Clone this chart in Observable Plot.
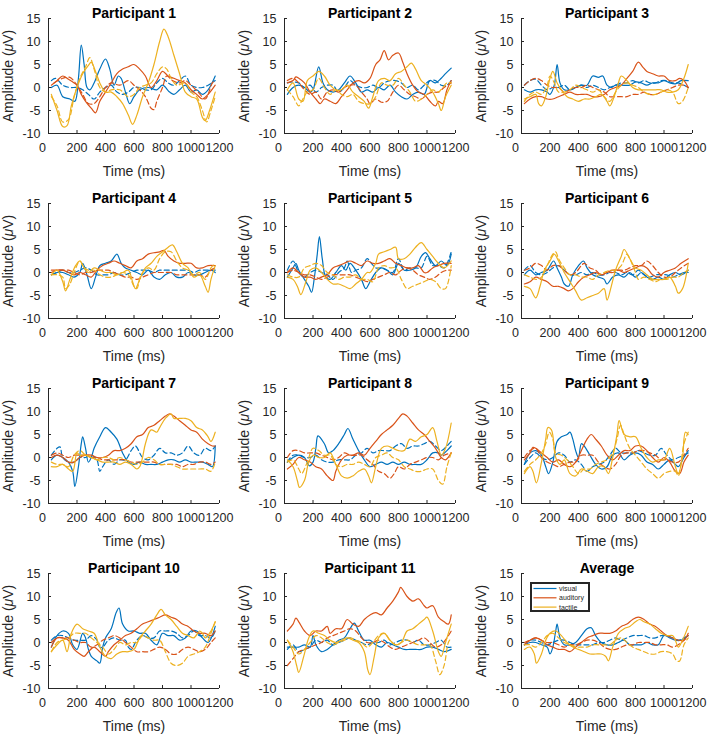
<!DOCTYPE html>
<html><head><meta charset="utf-8">
<script src="https://cdn.jsdelivr.net/npm/d3@7"></script>
<script src="https://cdn.jsdelivr.net/npm/@observablehq/plot@0.6"></script>
<style>
body{margin:0;background:#fff;}
#wrap{position:relative;width:708px;height:735px;overflow:hidden;font-family:"Liberation Sans",Arial,sans-serif;}
.panel{position:absolute;}
</style></head><body><div id="wrap"></div>
<script>
const titles = ["Participant 1","Participant 2","Participant 3","Participant 4","Participant 5","Participant 6","Participant 7","Participant 8","Participant 9","Participant 10","Participant 11","Average"];
const conditions = ["visual","auditory","tactile"];
const xTicks = [0,200,400,600,800,1000,1200];
const yTicks = [-10,-5,0,5,10,15];
const xLabel = "Time (ms)";
const yLabel = "Amplitude (μV)";

// each series: flat list of time(ms), amplitude(µV) pairs; solid and dashed traces per condition
const p1 = {
 visual:[20,0,60,0.5,100,-2,150,-2.5,185,-3,210,2,230,9.2,250,5,270,0,290,-0.5,320,1,360,4,400,6.2,430,4,460,0.5,490,2.5,510,2,540,-1,570,-3.5,600,-2,640,-0.5,700,0,760,-0.5,800,0.5,850,-1,880,-1.5,920,-0.5,960,0.5,1000,-1,1040,-0.5,1080,-1.5,1120,-0.5,1170,2.5],
 visualDashed:[20,1.5,50,2,100,0.5,150,0,200,0,240,-0.5,280,-1.5,320,-2.5,360,-1,400,0,440,0.5,480,-1,520,-1.5,560,-1,600,0,640,0,680,-0.5,720,-0.5,760,1,800,2,840,1,880,0.5,920,1.5,960,2.5,1000,0.5,1040,0,1080,0,1120,0.5,1170,1.5],
 auditory:[20,0.5,60,1.5,100,2.5,140,1.8,180,1,200,0.5,230,-1.5,260,-3,300,-4.5,330,-5.5,360,-3,400,-1,440,1,480,3,520,4,560,4.5,600,5,640,4,680,2.5,720,0,760,1.5,800,3.5,840,2.5,880,2,920,1.5,960,1,1000,-0.5,1040,-1.5,1080,-2.5,1120,-1.5,1170,0.5],
 auditoryDashed:[40,1,100,2,150,2.2,200,0.5,240,-1.5,280,-3.5,320,-3.5,360,-2,400,0,440,1,500,0.5,560,1.5,600,0.5,640,-0.5,680,-2,720,-4.5,740,-4.8,760,-3,800,0,830,2.5,870,1.5,920,1,960,1.5,1000,0.5,1050,-1,1100,-2.5,1150,1,1170,1.5],
 tactile:[20,-1.5,60,-5,100,-8.5,130,-8.3,160,-4,200,0,240,3,280,4.8,300,5.5,330,3.5,360,1,400,-1,440,-1,480,-2,520,-3.5,560,-6,590,-8,620,-6,660,-2,700,1,740,5,780,10,810,12.7,840,11,880,7,920,3,960,-1,1000,-2,1040,-2.5,1080,-6.5,1100,-7.2,1130,-5,1170,-1],
 tactileDashed:[20,-2,60,-4,100,-7.5,140,-7,180,-2,220,2,260,4.5,290,6.5,320,4,360,0,400,-1,440,-0.5,500,-0.5,560,-2,600,-1.5,640,0,680,0.5,720,1,760,3,800,4.5,830,4,860,2,900,0.5,960,1,1000,-1,1040,-2,1080,-5,1110,-7.5,1140,-5,1170,-2]
};
const p2 = {
 visual:[20,-1.5,60,0,100,0.5,140,0,180,-1,200,-0.5,240,4.5,270,1,300,-0.5,340,-1,380,-0.5,420,1,460,2.5,500,1,540,-1,580,-0.5,620,-1,660,0,700,-0.5,740,0.5,780,-1,820,-2,860,-2.5,900,-1.5,940,-1,980,-1.5,1020,1.5,1060,1,1100,2,1130,3,1170,4.2],
 visualDashed:[20,1,60,1.2,100,1,140,0,180,0.5,220,-1,260,0,300,0.5,340,0.5,380,-1,420,0,460,1.5,500,0.5,540,0,580,0,620,0.5,660,0,700,1,740,1.5,780,1.5,820,1,860,0,900,0.5,940,-0.5,980,0.5,1020,1.5,1060,1.5,1100,0.5,1140,0.5,1170,1.5],
 auditory:[20,1,60,1.5,80,2.3,100,2,140,1,180,-1,220,-2.5,250,-3.5,280,-2.5,320,-3,360,-3.5,400,-2,440,-0.5,480,1,520,1.5,560,1,600,2,640,5,670,6,700,8,730,6,760,7,800,7.5,830,5.5,860,3,900,0.5,940,-1,980,-1.5,1020,-3,1060,-4,1080,-3,1110,-3.5,1140,-0.5,1170,1.5],
 auditoryDashed:[20,1.5,60,2,100,1,140,-0.5,180,-1.5,220,-1,260,-2.5,300,-1,340,-0.5,380,-1,420,0,460,0.5,500,0.5,540,-1,580,-2.5,600,-3.5,640,-2.5,680,-3.2,720,-3,760,-1,800,0.5,840,-0.5,880,-1.5,920,-2,960,-2.5,1000,-1.5,1040,-1,1080,-1,1120,0,1170,1],
 tactile:[20,-0.5,60,1,100,-2.5,130,-3,160,1.5,200,2.5,240,3.5,280,2.5,320,0.5,360,-0.5,400,-0.5,440,0.5,480,-1,520,-2,560,-3,590,-4.5,620,-2,660,1.5,700,2,740,1.5,780,3,820,3.5,860,4.5,890,5.3,920,4,960,1.5,1000,0.5,1040,-1,1080,-3.5,1100,-5,1130,-2,1170,0.5],
 tactileDashed:[20,-0.5,60,-2,100,-4,120,-3,160,-1,200,-0.5,240,2,280,0,320,-1.5,360,-0.5,400,-1.5,440,-2,480,-1.5,520,-3,560,-3.5,600,-3.5,640,-2,680,1,720,0.5,760,0.5,800,2,840,0.5,880,-1,920,-3,960,-2.5,1000,-1.5,1040,-0.5,1080,-1,1110,0,1140,1,1170,1]
};
const p3 = {
 visual:[20,-0.5,60,-1,100,-0.5,140,-0.5,180,-1,200,-1.5,230,0.5,250,5,270,1,300,-0.5,340,-0.5,380,0,420,0.5,460,0.5,500,2.5,540,2.2,570,2.5,600,0.5,630,0,660,0.5,700,0.5,760,0.5,800,1.2,840,1,880,0.5,920,1,960,1,1000,1.5,1040,1,1080,0.8,1120,1.5,1170,1.5],
 visualDashed:[20,0.5,60,1.5,100,1.8,140,0.5,180,-0.5,220,0,260,0,300,0.5,340,-0.5,380,0,420,0.5,460,0,500,0.5,540,0,580,-0.5,620,0,660,0.5,700,1,740,1,780,1.5,820,1,860,1.5,900,1,940,1,980,1.5,1020,1.5,1060,1,1100,1,1140,0.5,1170,0],
 auditory:[20,-3.5,60,-2.5,100,-2,140,-2,180,-2.5,220,-2.5,260,-2,300,-1.5,340,-1,380,-1.5,420,-1.5,460,-1.5,500,-2,540,-2,580,-1.5,620,-0.5,660,0,700,0.5,740,2,780,3.5,820,5.5,850,4.5,880,3.5,920,3,960,2.5,1000,2.5,1040,1.5,1080,1.5,1110,2,1140,1.5,1170,0],
 auditoryDashed:[20,0.5,60,1.5,100,2,140,1.5,180,0.5,220,0,260,0,300,-1,340,-0.5,380,0,420,0,460,0.5,500,0,540,-0.5,580,-1,620,-2,660,-2,700,-2,740,-2,780,-1.5,820,-1.5,860,-1,900,-1.5,940,-1.5,980,-1,1020,-0.5,1060,0,1100,0.5,1140,0.5,1170,0],
 tactile:[20,-2.5,60,-2,100,-1.5,120,-3.5,140,-4,170,-2,200,2,220,3.5,250,1,280,-0.5,320,-2,360,-2.5,400,-3,440,-2.5,480,-2.5,520,-2,560,-1.5,600,-3,620,-4,650,-2,680,1,700,2.5,740,1.5,780,0,820,-0.5,860,-0.5,900,-0.5,940,-0.5,980,-0.5,1020,-1,1060,-1,1100,-0.5,1140,2,1170,5],
 tactileDashed:[20,-3,60,-1.5,100,-1,140,-1.5,180,0.5,200,2.5,230,1,260,-1,300,-1,340,-0.5,380,0.5,420,0,460,-0.5,500,-1,540,-0.5,580,-2,620,-3,660,-1,700,0.5,740,1,780,0.5,820,0,860,-1,900,-1.5,940,-1.5,980,-1,1020,-0.5,1060,-1,1100,-3.5,1130,-3,1170,0]
};
const p4 = {
 visual:[20,-0.5,60,0,100,0,140,-0.5,180,-1,220,0,240,2,270,-0.5,300,-3.5,330,-1,360,1.5,400,2,440,2.5,480,4,510,2,540,1,580,0.5,620,0,660,-0.5,700,0.5,740,-1,780,-1.5,820,-0.5,860,0,900,-1,940,-1,980,0,1020,-0.5,1060,-0.5,1100,0,1140,0.5,1170,0],
 visualDashed:[20,-0.5,60,0,100,0.5,140,0,180,0,220,0.5,260,1,300,0.5,340,-0.5,380,-0.5,420,-0.5,460,0,500,-0.5,540,-0.5,580,0,620,0.5,660,0.5,700,0.5,740,0,780,0.5,820,0.5,860,0.5,900,0.5,940,0.5,980,0.5,1020,0,1060,0.5,1100,0.5,1140,0.5,1170,0.5],
 auditory:[20,0,60,0.5,100,0.5,140,0,180,-0.5,220,0,260,-0.5,300,-1,340,0.5,380,1.5,420,2,460,2.5,500,2,540,1.5,580,1,620,2.5,660,3,700,4,740,4.3,780,4.5,810,4.8,840,3.5,880,2.5,920,2,960,2,1000,2,1040,1,1080,1,1120,1.5,1170,1.5],
 auditoryDashed:[20,0.5,60,0.5,100,0.5,140,0.5,180,0,220,-0.5,260,0,300,0,340,0.5,380,0.5,420,0.5,460,0,500,-0.5,540,-1,580,-1,620,-1.5,660,-1,700,-0.5,740,0,780,0,820,0,860,0,900,-0.5,940,-0.5,980,-0.5,1020,-0.5,1060,-0.5,1100,-1,1140,0.5,1170,1],
 tactile:[20,-0.5,60,0.5,100,-2,120,-4,150,-1.5,190,1.5,220,2.5,250,1,280,0,320,1,360,0.5,400,0,440,0,480,-0.5,520,0,560,0.5,590,-2,610,-3.5,640,-1.5,680,1,720,2,760,3.5,800,4.5,840,5.5,870,6,900,4.5,940,2,980,1,1020,-1,1060,-0.5,1100,-3,1120,-4.3,1140,-1.5,1170,1.5],
 tactileDashed:[20,-0.5,60,-0.5,100,-1,120,-3.5,150,-2.5,180,0,220,2.5,250,1,280,0.5,320,0.5,360,-0.5,400,-1,440,-1,480,-0.5,520,0,560,-0.5,600,-3,620,-3.5,650,-0.5,700,1,740,0.5,780,3,820,4.5,860,4.5,900,2.5,940,1,980,0.5,1020,-0.5,1060,0,1100,-1.5,1140,1,1170,2]
};
const p5 = {
 visual:[20,-1,60,1,80,2,100,0.5,140,-1.5,170,-3,190,-4.3,210,-1,230,4,245,7.8,265,3,290,-1,320,-1.5,360,0,400,1.5,430,0.5,460,2,500,0.5,540,-1.5,570,-3.5,600,-2,640,0,680,1,720,0.5,760,-0.5,800,2,840,0.5,880,0.5,920,1,960,3.5,990,4.3,1020,3,1060,1.5,1100,2.5,1140,1.5,1170,4],
 visualDashed:[20,0.5,60,2.5,100,0,140,-1,180,0,220,0.5,260,0,300,-0.5,340,-1.5,380,0,420,1,440,2.5,470,0,500,0.5,540,1,580,3,610,2,640,1,680,1,720,0.5,760,0,800,3,840,0.5,880,1,920,1,960,1,1000,3.5,1040,1.5,1080,1.5,1120,1,1170,4.5],
 auditory:[20,0,60,1,100,0,140,-1,180,-1,220,-1.5,260,-1,300,-0.5,340,1,380,1.5,420,2,460,2.5,500,2,540,1.5,580,2.5,620,2,660,2,700,2.5,740,3,780,2,820,1.5,860,1,900,1,940,1.5,980,0,1000,0,1040,1,1080,1.5,1120,2,1170,2],
 auditoryDashed:[20,0,60,0.5,100,0,140,-0.5,180,-0.5,220,-1,260,-1.5,300,-1,340,-0.5,380,-0.5,420,-0.5,460,-0.5,500,-1,540,-1.5,580,-2,620,-1.5,660,-1,700,-0.5,740,0,780,-0.5,820,0.5,860,1,900,0.5,940,-0.5,980,-1,1020,-1.5,1060,-1,1100,0,1140,0.5,1170,0.5],
 tactile:[20,-1,60,-1.5,90,-3,115,-4.8,150,-2,180,0.5,220,1,260,0,300,-1.5,340,-2.5,380,-2.5,420,-3,460,-3.5,500,-2.5,540,-1.5,580,0,600,0,640,2,660,4,700,4.5,740,5,780,5.5,800,3,840,3,880,4,920,5.5,960,6.5,1000,5,1040,3.5,1080,2,1120,1,1170,2.5],
 tactileDashed:[20,-0.5,60,-1,100,-1,140,1,180,1.5,220,2,260,1.5,300,0,340,-0.5,380,-1.5,420,-1,460,-1,500,-0.5,540,-1.5,580,-1.5,620,-2,660,1,700,1.5,740,1,780,1,820,-1.5,860,-3.5,900,-3,940,-2.5,980,-2,1020,-1.5,1060,-2,1100,-3.5,1130,-3.5,1170,1.5]
};
const p6 = {
 visual:[20,-0.5,60,0.5,100,-0.5,140,0,180,0.5,225,2.5,250,1,280,-1,300,-2.5,330,-3,360,-0.5,400,1.5,435,2.5,460,1,500,-0.5,540,-1,580,-1.5,600,-2.5,640,-1,680,-0.5,720,-1,760,0,800,-1,840,0,880,-1,920,-1.5,960,-1,1000,-1.5,1040,-0.5,1080,0,1120,-0.5,1170,0.5],
 visualDashed:[20,0.5,60,1.5,100,0,140,-0.5,180,0,220,1,260,1.5,300,0.5,340,-0.5,380,-0.5,420,0,460,-0.5,500,0,540,-0.5,580,-0.5,620,0,660,0,700,-0.5,740,0,780,-0.5,820,0.5,860,-0.5,900,-1,940,-0.5,980,-0.5,1020,-0.5,1060,-1,1100,-0.5,1140,0,1170,0],
 auditory:[20,-2.5,60,-2,100,-1,140,-1.5,180,-2,220,-3,260,-3,300,-3.5,330,-4,360,-3.5,400,-2,440,-1,480,-0.5,520,0,560,-0.5,600,0,640,0.5,680,0.5,720,0,760,0.5,800,1,840,1.5,880,1,920,-0.5,960,-1,1000,0,1040,0.5,1080,1,1120,2,1170,3],
 auditoryDashed:[20,0.5,60,1,100,2,140,1.5,180,0.5,220,1.5,260,1.5,300,0.5,340,-0.5,380,0,420,1.5,440,2,480,1,520,0.5,560,-0.5,600,0,640,0,680,0.5,720,0.5,760,1,800,1.5,840,1.5,880,2.5,920,1.5,960,0,1000,-1,1040,-1,1080,0,1120,1,1170,2],
 tactile:[20,-3,60,-3.5,100,-5.5,130,-3,160,0.5,200,2.5,230,4,260,2.5,300,0,340,-2,380,-4,420,-6,460,-5.5,500,-5,540,-4.5,580,-3.5,600,-6,630,-3,660,0.5,700,3.5,720,5,760,3,800,1,840,0.5,880,-0.5,920,-1.5,960,-1.5,1000,-1.5,1040,-1,1080,-3,1100,-4.5,1130,-3.5,1170,2],
 tactileDashed:[20,-0.5,60,-1,100,-1.5,140,-1,180,1.5,220,4,240,4.5,260,3,300,1,340,-0.5,380,-0.5,420,-1,460,-1,500,-1.5,540,-0.5,580,0,620,0.5,660,0.5,700,1.5,740,4,760,3,800,0,820,-1.5,860,-1,900,-1.5,940,-2,980,-1.5,1020,-1.5,1060,-1,1100,-1,1140,0,1170,0.5]
};
const p7 = {
 visual:[20,-0.5,60,0.5,100,0,140,-1,170,-3,185,-6.3,210,-2,230,3,240,4.5,260,2,280,-1,300,0,320,2,360,4.5,400,6.5,440,5.5,480,4,520,1,560,-1,600,-1.5,640,-1,680,-1.5,720,-1.5,760,-1.5,800,-1,840,-0.5,880,-0.5,920,-1,960,-0.5,1000,-1,1040,-1,1080,-1,1120,-1.5,1150,-2,1170,2.5],
 visualDashed:[20,0.5,60,2,80,2.3,100,0,140,-1,180,-1,220,0,260,0,300,0.5,340,-0.5,360,-3,380,-2,420,-0.5,460,-1.5,500,-0.5,540,-0.5,580,1.5,610,2.5,660,0,700,-0.5,740,0.5,780,2,820,1,860,1,900,0.5,940,1,980,2.5,1020,1,1060,0.5,1100,2,1140,1.5,1170,2.5],
 auditory:[20,0,60,0.5,100,0,140,-1,180,-1,220,0,260,0.5,300,0.5,340,0,380,0,420,0.5,460,1.5,500,1.5,540,2,580,3,620,4.5,660,5,700,6.5,740,7,780,8,820,9,850,9.5,880,9,920,8,960,7,1000,6,1040,5.5,1080,4,1120,3,1150,2.5,1170,2.5],
 auditoryDashed:[20,0.5,60,1,100,0.5,140,0,180,0.5,220,0.5,260,0.5,300,0,340,0,380,-0.5,420,-0.5,460,-0.5,500,-0.5,540,-0.5,580,-1,620,-1,660,-1,700,-1,740,-1,780,-1.5,820,-1.5,860,-1.5,900,-1.5,940,-2,980,-1.5,1020,-1.5,1060,-1,1100,-1,1140,-1.5,1170,-1],
 tactile:[20,-2,60,-2,100,-1.5,140,-2.5,170,-3,200,1,220,0.5,260,0.5,300,0,340,-0.5,380,-1,420,-1,460,-1,500,-1.5,540,-1,580,-1.5,620,-2.5,640,-2,660,0,680,3,720,6,760,5.5,780,6.5,820,8.5,860,9.5,880,8.5,920,8.5,960,8.5,1000,8,1040,6.5,1080,6,1120,4.5,1140,3.5,1170,5.5],
 tactileDashed:[20,-1,60,-1.5,100,-1.5,140,-2,180,0.5,220,1.5,260,0.5,300,0,340,-0.5,380,0,420,0,460,-0.5,500,0,540,-0.5,580,-1,620,-1.5,660,-1,700,0,740,-0.5,780,-1.5,820,-1.5,860,-1.5,900,-2,940,-2.5,980,-2.5,1020,-2.5,1060,-2.5,1100,-2.5,1140,-3,1170,-1]
};
const p8 = {
 visual:[20,-1,60,0,100,0.5,140,0,175,-1.8,200,-1,220,2,235,4.7,280,3,310,1,340,1.5,380,3,420,5,445,6.3,480,4,520,1.5,560,-0.5,600,-2,640,-1.5,680,-1,720,-1.5,760,-1,800,-1.5,840,-1,880,-1.5,920,-1.5,960,-1.5,1000,-0.5,1040,1,1080,1,1100,0.5,1140,1.5,1170,2.5],
 visualDashed:[20,-1,60,0.5,100,0.5,140,0,180,0,220,0.5,260,-0.5,300,-1,340,-1,380,-0.5,420,-0.5,460,-0.5,500,0.5,540,1,580,2,620,1,660,1.5,700,1.5,740,1.5,780,2.5,820,3,860,2,900,2.5,940,2.5,980,3,1020,3.5,1060,2.5,1100,1.5,1140,2.5,1170,3.5],
 auditory:[20,-2.5,60,-1.5,100,0,140,-0.5,180,-1,220,-2,260,-2.5,300,-4,340,-5,360,-3,400,-0.5,440,0.5,480,0.5,520,1,560,0.5,600,2,640,3.5,680,5,720,6,760,7,800,8.5,830,9.5,860,9,900,7.5,940,6,980,5,1020,3.5,1060,2,1100,0,1130,-0.5,1170,1],
 auditoryDashed:[20,0,60,1.5,100,1.5,140,1,180,1,220,1,260,0.5,300,0,340,-0.5,380,0,420,1,460,0.5,500,0.5,540,0.5,580,-0.5,620,-1.5,660,-3,700,-3.5,740,-4.5,770,-3.5,800,-2,840,-2.5,880,-1.5,920,-1,960,-0.5,1000,0,1040,0,1080,-0.5,1120,0.5,1170,1],
 tactile:[20,-0.5,60,-2,90,-5,105,-6.5,140,-5,170,-1,200,0.5,240,0,280,0,320,1,360,-1.5,400,-4,440,-4.5,480,-4,520,-3,560,-2.5,590,-4,610,-5.5,640,-2,680,2,720,2.5,760,2,800,1.5,840,1.5,880,4,920,3.5,960,4.5,1000,5,1040,6.5,1070,3.5,1100,0.5,1130,2,1170,7.5],
 tactileDashed:[20,-1,60,-0.5,100,-2.5,120,-3.5,160,-1,200,2,240,1.5,280,0.5,320,0.5,360,-1.5,400,-2,440,-1.5,480,-1.5,520,-1,560,-1.5,600,-2,640,0,680,0.5,720,1,760,0,800,-0.5,840,-2,880,-2.5,920,-3,960,-3,1000,-2.5,1040,-2.5,1080,-5,1110,-5.8,1140,-2,1170,1]
};
const p9 = {
 visual:[20,-1.5,60,1,100,1.5,140,0.5,170,-2,190,-3.5,220,-1,250,3.5,280,4.5,320,5,340,5.5,360,4,380,1.5,400,0,420,3,440,2.5,480,0.5,520,-1.5,560,-2.5,600,-2,640,0.5,680,1,720,-0.5,760,0.5,800,1,840,0.5,880,-1,920,-1.5,960,-2.5,1000,-1.5,1040,-0.5,1080,-1.5,1100,-2,1140,0,1170,1.5],
 visualDashed:[20,-1.5,60,0,100,1,140,0,180,-0.5,220,0,260,1,300,0.5,340,-1,380,-0.5,420,-1.5,460,-3,500,-2,540,-1.5,580,-1,620,0.5,660,2,700,1,740,1,780,1,820,1.5,860,1,900,0.5,940,0.5,980,2,1020,0.5,1060,-0.5,1100,0,1140,0.5,1170,1],
 auditory:[20,-0.5,60,1,80,2.2,100,2,140,1,180,0,220,-1,260,-0.5,300,-1.5,340,-2,380,-1,420,1.5,460,4,490,5,520,4,560,2.5,600,0.5,640,-0.5,680,0.5,720,1.5,760,1.5,800,2.5,840,2.5,880,1.5,920,0,960,-1,1000,0,1040,-1,1080,-3,1110,-3.5,1140,-1,1170,0.5],
 auditoryDashed:[20,0,60,1.5,100,2,140,0,180,-1,220,-1.5,260,-2,300,-1.5,340,-1,380,-1,420,0.5,460,0.5,500,0.5,540,-1,580,-2,620,-2.5,660,-1.5,700,0.5,740,1,780,1,820,1.5,860,1.5,900,1,940,0.5,980,-0.5,1020,-0.5,1060,-1,1100,-1,1140,0.5,1170,2],
 tactile:[20,-3.5,60,-2,80,-3,105,-5.5,140,-1,170,4,185,6.5,210,6,240,0,270,-1.5,300,-0.5,340,-3.5,380,-4,420,-2.5,460,-3,500,-3.5,540,-2,580,-2,610,-3.5,640,0,670,5,685,8,720,5,760,4.5,800,4.5,840,2,880,0,920,-1,960,-0.5,1000,-0.5,1040,2,1080,-2,1100,-3.5,1130,0,1150,5.5,1170,5],
 tactileDashed:[20,-3,60,-1.5,100,-0.5,140,1,170,3,195,5.5,220,4,240,1,280,0.5,320,-0.5,360,-2,400,-3.5,440,-2.5,480,-2.5,520,-1.5,560,-1,600,-0.5,640,1,670,4,695,7,720,5,760,2,800,0.5,840,-1,880,-2.5,920,-3.5,960,-4.5,1000,-3.5,1040,-3,1080,-3,1100,-4,1140,3,1170,5.5]
};
const p10 = {
 visual:[20,-1,60,1.5,100,2.5,140,2,170,-0.5,200,-1.5,240,2,260,1,280,-1.5,300,-3,340,-4,360,-4.5,380,-1,400,1,440,3,475,6.5,495,7.5,520,4,560,2.5,600,2.5,640,2,680,2,720,0.5,760,-0.5,800,2,840,1.5,880,1.5,920,0.5,960,1,1000,2.5,1040,2.5,1080,1,1120,0,1170,3.5],
 visualDashed:[20,0.5,60,1.5,100,1.5,140,1,180,0.5,220,0.5,260,0.5,300,1.5,340,0.5,360,-1,380,-1,420,0.5,460,1,500,0.5,540,0.5,560,-1,580,-1.5,620,0.5,660,1.5,700,1,740,1,780,2.5,820,2.5,860,2.5,900,2,940,1,980,1.5,1020,2.5,1060,1.5,1100,1.5,1140,1,1170,2.5],
 auditory:[20,-1,60,1,100,1,140,0.5,180,-1.5,220,-2.5,250,-3,280,-2,320,-1,360,-2,400,-3,420,-2,460,-0.5,500,0.5,540,1.5,580,2,620,3,660,4,700,4.5,740,5,780,5.5,820,6,860,5.5,900,5,940,4,980,3.5,1020,2.5,1060,2,1100,2,1140,1.5,1170,2.5],
 auditoryDashed:[20,0,60,1,100,1,140,1,180,0.5,220,0,260,0,300,-1,340,-0.5,380,0.5,420,1,460,1.5,500,1,540,0,580,-1,620,-2,660,-2,700,-2,740,-1.5,780,-1,820,-1.5,860,-2.5,900,-2.5,940,-1.5,980,-1,1020,-1.5,1060,-2,1100,-1.5,1140,0,1170,1],
 tactile:[20,-2,60,-0.5,100,0.5,130,-2,160,2,200,4,240,3,280,2.5,320,2,360,-1,400,-3,440,-3.5,480,-2.5,520,-2,560,-2,600,-1.5,640,1,680,2.5,720,4,760,6,790,7.2,820,6,860,5,900,3.5,940,2,980,1.5,1020,1,1060,2.5,1080,2,1100,1,1140,2.5,1170,4.5],
 tactileDashed:[20,-2,60,0,100,0.5,140,1,180,2,220,2,260,2,300,1,340,0,380,-1,420,-2.5,460,-1.5,500,0,540,-0.5,580,0,620,0,660,1.5,700,1,740,0.5,780,0.5,820,-2,860,-4.5,900,-5,940,-4.5,980,-3,1020,-2.5,1060,-2,1100,-1,1140,2,1170,4.5]
};
const p11 = {
 visual:[20,-1,60,-1,100,-1,140,-0.5,180,-1,200,1.5,220,-0.5,260,-2,300,-1.5,340,-0.5,380,0.5,420,1,460,3,490,4.2,520,2.5,560,0.5,600,0.5,640,-0.5,680,-1,720,0,760,-0.5,800,-1,840,-1.5,880,-1.5,920,-1.5,960,-1.5,1000,-1,1040,-1,1080,-1.5,1120,-2,1170,-1.5],
 visualDashed:[20,-1.5,60,-0.5,100,-2,140,-1.5,180,-1,220,0.5,260,0,300,0.5,340,-0.5,380,0,420,0.5,460,1,500,0.5,540,0,580,-0.5,620,0,660,0,700,0.5,740,-0.5,780,0,820,0.5,860,0.5,900,0,940,0.5,980,-0.5,1020,-0.5,1060,0,1100,0.5,1140,-1,1170,-1],
 auditory:[20,2.5,60,4,80,5.3,100,4.5,140,2.5,180,1.5,220,2.5,260,2.5,300,3.5,320,2,360,3,400,3,440,5,480,4,520,3.5,560,5,600,6,640,6.5,680,6,720,7.5,760,9,800,11,815,12,860,10,900,9,940,9.5,980,8,1000,7.5,1040,8,1080,5.5,1120,4.5,1150,4,1170,6],
 auditoryDashed:[20,-5,60,-3.5,100,-2,140,-1.5,180,-1,220,-0.5,260,0,300,1,340,1.5,380,2,420,2.5,460,3,500,2.5,540,1,580,0,620,0,660,0.5,700,0,740,-1,780,-1.5,820,-1,860,-0.5,900,0,940,0.5,980,1,1020,0,1060,-1,1100,-0.5,1140,1,1170,2.5],
 tactile:[20,0.5,60,-2,85,-5,100,-6.5,135,-3,170,1,200,2.5,240,2,280,1.5,320,0.5,360,0,400,0.5,440,1,480,0.5,520,0,560,-2,585,-6,600,-7,630,-3,660,1,700,2,740,0.5,780,-0.5,820,0,860,2.5,900,3,940,4,980,5,1000,5.5,1040,2.5,1080,-2,1100,-3,1130,0,1170,4],
 tactileDashed:[20,0.5,60,-1,100,-2.5,140,-1.5,180,0,220,1.5,260,1,300,0,340,-0.5,380,0,420,0.5,460,1,500,0.5,540,0,580,-1,620,0,660,1.5,700,2,740,0.5,780,-0.5,820,0,860,0.5,900,0,940,-0.5,980,-0.5,1020,-0.5,1060,-4,1090,-7,1120,-5,1150,0,1170,1]
};
const avg = {
 visual:[20,-0.5,60,0,100,0,140,-0.5,180,-1,200,-2.5,220,-1,240,2.5,250,4,270,1,300,-0.5,340,-0.5,380,0,420,1.5,460,3,490,3.2,520,1.5,560,0,600,-0.5,640,-0.5,680,0,720,0.5,760,-0.5,800,-0.5,840,-0.5,880,0,920,-0.5,960,-0.5,1000,1.5,1040,1,1080,0.5,1120,0.5,1170,1.5],
 visualDashed:[20,-0.5,60,0.5,100,0.5,140,0,180,-0.5,220,0,260,0.5,300,0.5,340,0,380,-0.5,420,-0.5,460,-0.5,500,-0.5,540,0,580,0,620,0.5,660,1,700,0.5,740,1,780,1.5,820,1.5,860,1.5,900,1,940,1,980,1.5,1020,1.5,1060,1,1100,0.5,1140,1,1170,1.5],
 auditory:[20,-0.5,60,0.5,100,1,140,0.5,180,-0.5,220,-1,260,-1.5,300,-1.5,340,-2,380,-1,420,0,460,1,500,1.5,540,2,580,2,620,2,660,2.5,700,3.5,740,4,780,5,820,5.5,860,5,900,4,940,3.5,980,2.5,1020,1.5,1060,1,1100,0.5,1140,0.5,1170,2],
 auditoryDashed:[20,0,60,0.5,100,1,140,0.5,180,0,220,0,260,-0.5,300,-1,340,-0.5,380,-0.5,420,0,460,0.5,500,0.5,540,0,580,-1,620,-1.5,660,-1.5,700,-1,740,-0.5,780,-0.5,820,0,860,0,900,0,940,-0.5,980,-0.5,1020,-0.5,1060,-1,1100,-0.5,1140,0.5,1170,1.5],
 tactile:[20,-1.5,60,-1,90,-2.5,105,-4.5,140,-2.5,170,0.5,200,2,240,2.5,280,1.5,320,0,360,-1,400,-1.5,440,-2,480,-2.5,520,-2.5,560,-2.5,590,-3,610,-4,640,-1,680,2,720,3,760,3.5,800,4.5,830,5,860,4.5,900,4,940,3,980,2,1020,1.5,1060,1.5,1080,0.5,1100,-1,1130,0.5,1170,3.5],
 tactileDashed:[20,-0.5,60,-0.5,100,-1,140,0,180,1.5,220,2,260,1,300,0,340,-0.5,380,-1,420,-1,460,-1,500,-0.5,540,-0.5,580,-0.5,620,-0.5,660,0.5,700,1,740,0,780,-1,820,-1.5,860,-2,900,-2.5,940,-2.5,980,-2,1020,-2,1060,-2.5,1090,-4,1110,-4,1140,-0.5,1170,1]
};
const panels = [p1,p2,p3,p4,p5,p6,p7,p8,p9,p10,p11,avg];

const colors = {visual:"#0072BD", auditory:"#D95319", tactile:"#EDB120"};
const ink = "#262626";
const font = "'Liberation Sans', Arial, Helvetica, sans-serif";

function pts(flat){ const out=[]; for(let i=0;i<flat.length;i+=2) out.push({t:flat[i], v:flat[i+1]}); return out; }

const wrap = document.getElementById("wrap");
const colLeft = [-0.5, 236.3, 473.3];

panels.forEach((p, i) => {
  const col = i % 3, row = Math.floor(i / 3);
  const lines = [];
  conditions.forEach(c => {
    lines.push(Plot.line(pts(p[c]), {x:"t", y:"v", stroke: colors[c], strokeWidth: 1.2, curve: "catmull-rom"}));
    lines.push(Plot.line(pts(p[c + "Dashed"]), {x:"t", y:"v", stroke: colors[c], strokeWidth: 1.2, strokeDasharray: "5,3", curve: "catmull-rom"}));
  });
  const chart = Plot.plot({
    width: 236, height: 178,
    marginLeft: 48, marginRight: 17, marginTop: 18, marginBottom: 45,
    x: {domain: [0, 1200]},
    y: {domain: [-10, 15]},
    style: {fontFamily: font, fontSize: "12.5px", color: ink, background: "transparent", overflow: "visible"},
    marks: [
      ...lines,
      Plot.ruleX([0], {stroke: ink, strokeWidth: 1}),
      Plot.ruleY([-10], {stroke: ink, strokeWidth: 1}),
      Plot.axisX({ticks: xTicks, tickSize: -3, tickPadding: 13, tickFormat: d => String(d), label: xLabel, labelAnchor: "center", labelArrow: "none", stroke: ink, fill: ink}),
      Plot.axisY({ticks: yTicks, tickSize: -3, tickPadding: 11, tickFormat: d => String(d), label: yLabel, labelAnchor: "center", labelArrow: "none", stroke: ink, fill: ink}),
      Plot.text([titles[i]], {text: d => d, frameAnchor: "top", dy: -10.5, fontSize: 14, fontWeight: "bold", fill: "#000"})
    ]
  });
  chart.classList.add("panel");
  chart.style.left = colLeft[col] + "px";
  chart.style.top = (185 * row - 0.5) + "px";
  chart.style.position = "absolute";
  const s = d3.select(chart);
  s.selectAll('[aria-label="x-axis label"], [aria-label="y-axis label"]').attr("font-size", 14).style("font-size", "14px");
  s.selectAll('[aria-label="y-axis label"] text').each(function(){
    const el = d3.select(this);
    el.text(null);
    el.append("tspan").text("Amplitude (");
    el.append("tspan").attr("font-style", "italic").text("μ");
    el.append("tspan").text("V)");
  });
  s.selectAll('[aria-label="x-axis tick label"] text').filter(function(){ return this.textContent === "0"; })
    .each(function(){ const tr = this.getAttribute("transform") || ""; this.setAttribute("transform", tr + " translate(-6,0)"); });
  wrap.appendChild(chart);
});

// legend inside the Average panel
const leg = d3.select(wrap).append("div")
  .style("position","absolute").style("left","530px").style("top","581.5px")
  .style("width","56px").style("height","26px").style("border","2px solid " + ink).style("background","#fff");
const lsvg = leg.append("svg").attr("width",56).attr("height",26).style("display","block");
conditions.forEach((c, k) => {
  const y = 4.5 + k * 9.3;
  lsvg.append("line").attr("x1",1.5).attr("x2",24.5).attr("y1",y).attr("y2",y).attr("stroke",colors[c]).attr("stroke-width",1.2);
  lsvg.append("text").attr("x",27).attr("y",y).attr("dy","0.35em").attr("font-size",7).attr("font-family",font).attr("fill",ink).text(c);
});
</script></body></html>
